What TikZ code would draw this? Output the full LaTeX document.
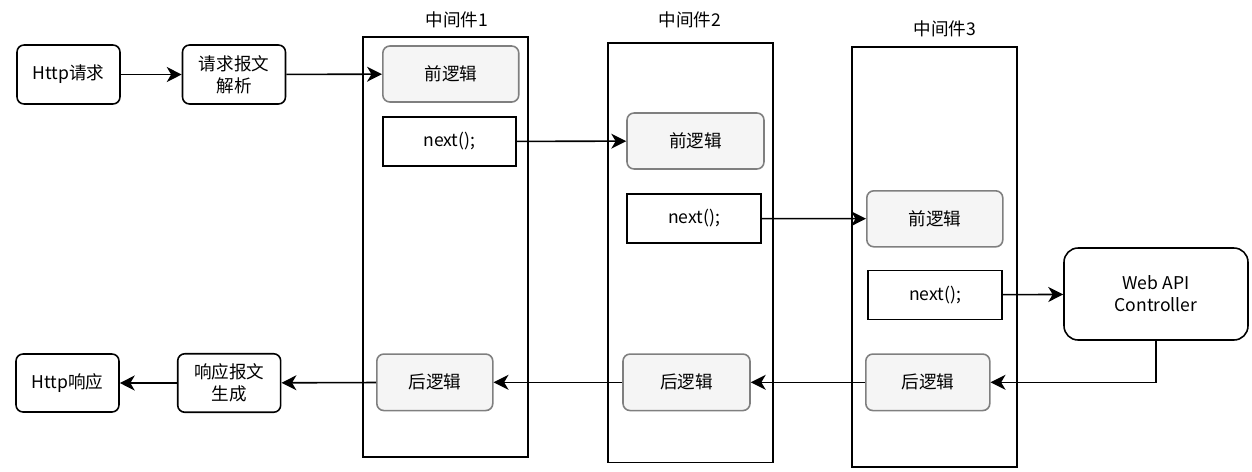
\documentclass[tikz,border=0pt]{standalone}
\usepackage{fontspec}
\setmainfont{Noto Sans CJK SC}
\usepackage{xcolor}
\usetikzlibrary{arrows.meta}

\definecolor{logicfill}{HTML}{F5F5F5}
\definecolor{logicdraw}{HTML}{7F7F7F}

\begin{document}
\begin{tikzpicture}[
  x=0.02cm, y=-0.02cm,
  font=\fontsize{10}{12.5}\selectfont,
  box/.style={rectangle, draw, line width=0.9pt, rounded corners=4pt, minimum width=2.06cm, minimum height=1.18cm, align=center, inner sep=1pt},
  logic/.style={rectangle, draw=logicdraw, fill=logicfill, line width=0.9pt, rounded corners=4pt, minimum height=1.12cm, align=center},
  call/.style={rectangle, draw, line width=0.9pt, minimum height=0.98cm, align=center},
  ware/.style={rectangle, draw, line width=0.9pt, minimum width=3.3cm, minimum height=8.4cm},
  arr/.style={-{Stealth[length=8.5pt, width=8.5pt, inset=2.5pt]}, line width=0.9pt},
]
  \useasboundingbox (0,0) rectangle (1252,471);

  % containers
  \node[ware] (mw1) at (445.5,247) {};
  \node[ware] (mw2) at (690.5,252.7) {};
  \node[ware] (mw3) at (934.3,256.8) {};
  \node (mw1name) at (457,20) {中间件1};
  \node (mw2name) at (690,20) {中间件2};
  \node (mw3name) at (945,29) {中间件3};

  % request side
  \node[box] (req) at (68.5,74.5) {Http请求};
  \node[box] (parse) at (234,74.5) {请求报文\\解析};

  % middleware 1
  \node[logic, minimum width=2.72cm] (pre1) at (450.8,74) {前逻辑};
  \node[call, minimum width=2.66cm] (next1) at (449.3,141.5) {next();};
  \node[logic, minimum width=2.32cm, minimum height=1.13cm] (post1) at (434.8,382.3) {后逻辑};

  % middleware 2
  \node[logic, minimum width=2.74cm] (pre2) at (695.5,141) {前逻辑};
  \node[call, minimum width=2.68cm] (next2) at (694,218.5) {next();};
  \node[logic, minimum width=2.54cm, minimum height=1.13cm] (post2) at (686.5,382.3) {后逻辑};

  % middleware 3
  \node[logic, minimum width=2.72cm] (pre3) at (934.8,218.8) {前逻辑};
  \node[call, minimum width=2.68cm] (next3) at (935,295) {next();};
  \node[logic, minimum width=2.48cm, minimum height=1.13cm] (post3) at (927.8,382.3) {后逻辑};

  \node[box, rounded corners=8pt, minimum width=3.68cm, minimum height=1.84cm] (api) at (1156,294) {Web API\\Controller};

  % response side
  \node[box, minimum height=1.17cm] (gen) at (229.2,383) {响应报文\\生成};
  \node[box, minimum height=1.16cm] (resp) at (67.5,383) {Http响应};

  \draw[arr] (req) -- (parse);
  \draw[arr] (parse) -- (pre1);
  \draw[arr] (next1) -- (pre2);
  \draw[arr] (next2) -- (pre3);
  \draw[arr] (next3) -- (api);
  \draw[arr] (api.south) |- (post3.east);
  \draw[arr] (post3) -- (post2);
  \draw[arr] (post2) -- (post1);
  \draw[arr] (post1) -- (gen);
  \draw[arr] (gen) -- (resp);
\end{tikzpicture}
\end{document}
